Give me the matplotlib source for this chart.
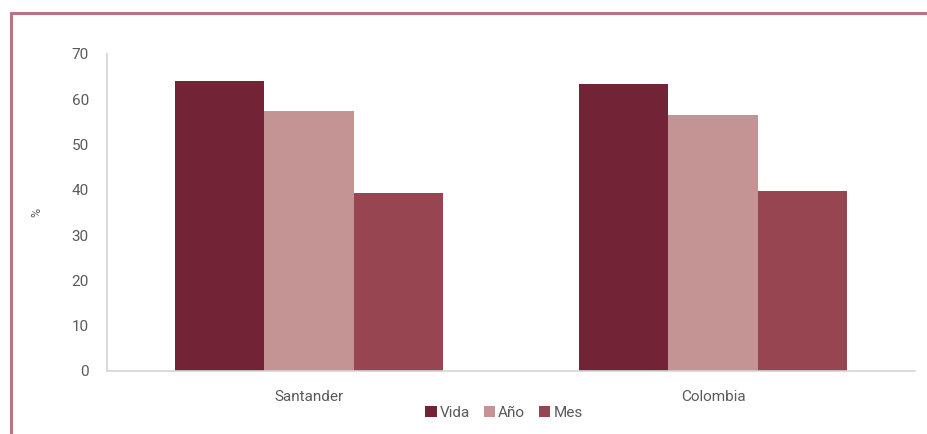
import matplotlib
matplotlib.use("Agg")
import matplotlib.pyplot as plt
import numpy as np
from matplotlib.patches import Rectangle

plt.rcParams['font.family'] = ['Roboto', 'DejaVu Sans']

categories = ["Santander", "Colombia"]
series = ["Vida", "Año", "Mes"]
vida = [64.0, 63.4]
anio = [57.4, 56.5]
mes = [39.3, 39.7]
colors = ["#722335", "#c49494", "#984552"]

fig = plt.figure(figsize=(9.27, 4.34), dpi=100)
ax = fig.add_axes([0.1154, 0.1452, 0.8716, 0.7304])

x = np.arange(len(categories))
w = 0.221
for i, (vals, name, c) in enumerate(zip([vida, anio, mes], series, colors)):
    ax.bar(x + (i - 1) * w, vals, width=w, color=c, label=name)

ax.set_xlim(-0.5, 1.5)
ax.set_ylim(0, 70)
ax.set_yticks(range(0, 71, 10))
ax.set_xticks(x)
ax.set_xticklabels(categories)
ax.tick_params(length=0, colors="#5a5a5a", labelsize=11)
ax.tick_params(axis="x", pad=14)
ax.tick_params(axis="y", pad=13)
for s in ["top", "right"]:
    ax.spines[s].set_visible(False)
for s in ["left", "bottom"]:
    ax.spines[s].set_color("#d4d4d4")
    ax.spines[s].set_linewidth(1.2)
ax.set_ylabel("%", color="#5a5a5a", fontsize=9, labelpad=20)

ax.legend(loc="center", bbox_to_anchor=(504 / 927, 1 - 413 / 434),
          bbox_transform=fig.transFigure, ncol=3, frameon=False,
          fontsize=11, handlelength=0.75, handleheight=0.75, handletextpad=0.2,
          columnspacing=0.9, labelcolor="#5a5a5a")

# outer frame
fig.patches.append(Rectangle((11 / 927, -0.1), 1.0, 1 - 13 / 434 + 0.1,
                             transform=fig.transFigure, fill=False,
                             edgecolor="#b87480", linewidth=2.2))

fig.savefig("out.png", dpi=100)
